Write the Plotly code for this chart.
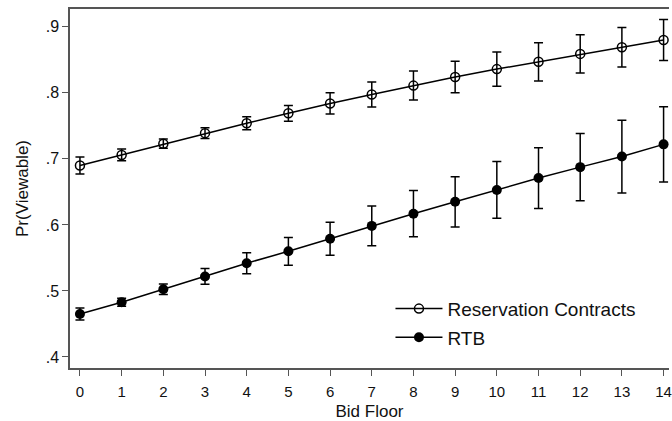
import plotly.graph_objects as go

bid_floor = list(range(15))
x_tick_labels = [str(v) for v in bid_floor]

res_mean = [0.690, 0.706, 0.723, 0.739, 0.754, 0.769, 0.784, 0.7975, 0.811, 0.824,
            0.836, 0.847, 0.859, 0.869, 0.880]
res_err = [0.013, 0.009, 0.007, 0.008, 0.010, 0.012, 0.016, 0.019, 0.022, 0.024,
           0.026, 0.029, 0.029, 0.030, 0.031]

rtb_mean = [0.465, 0.483, 0.5025, 0.522, 0.542, 0.560, 0.579, 0.5985, 0.617, 0.635,
            0.653, 0.671, 0.6875, 0.7035, 0.722]
rtb_err = [0.009, 0.006, 0.008, 0.012, 0.016, 0.021, 0.025, 0.030, 0.035, 0.038,
           0.043, 0.046, 0.051, 0.055, 0.057]

y_tick_vals = [0.4, 0.5, 0.6, 0.7, 0.8, 0.9]
y_tick_text = [".4", ".5", ".6", ".7", ".8", ".9"]

FONT = "Liberation Sans, Arial, sans-serif"

fig = go.Figure()
fig.add_trace(go.Scatter(
    x=bid_floor, y=res_mean, mode="lines+markers", name="Reservation Contracts",
    line=dict(color="black", width=1.5),
    marker=dict(symbol="circle-open", size=9, color="black", line=dict(width=1.5)),
    error_y=dict(type="data", array=res_err, color="black", thickness=1.5, width=4.5),
    legend="legend",
))
fig.add_trace(go.Scatter(
    x=bid_floor, y=rtb_mean, mode="lines+markers", name="RTB",
    line=dict(color="black", width=1.5),
    marker=dict(symbol="circle", size=10, color="black"),
    error_y=dict(type="data", array=rtb_err, color="black", thickness=1.5, width=4.5),
    legend="legend2",
))

legend_common = dict(font=dict(family=FONT, size=19, color="#111"),
                     bgcolor="rgba(0,0,0,0)", xanchor="left", yanchor="middle",
                     itemsizing="trace", itemwidth=47)

fig.update_layout(
    width=672, height=421,
    margin=dict(l=70, r=0, t=9, b=53),
    paper_bgcolor="white", plot_bgcolor="white",
    font=dict(family=FONT, size=15, color="#111"),
    xaxis=dict(
        range=[-0.2387, 14.13], tickvals=bid_floor, ticktext=x_tick_labels,
        showgrid=False, zeroline=False, showline=True, linecolor="#555", linewidth=1.5,
        mirror=True, ticks="outside", ticklen=6, tickcolor="#555", tickwidth=1,
        ticklabeloverflow="allow", ticklabelstandoff=3,
        tickfont=dict(size=15), title=dict(text="Bid Floor", font=dict(size=17), standoff=7),
    ),
    yaxis=dict(
        range=[0.3833, 0.927], tickvals=y_tick_vals, ticktext=y_tick_text,
        showgrid=False, zeroline=False, showline=True, linecolor="#555", linewidth=1.5,
        ticks="outside", ticklen=6, tickcolor="#555", tickwidth=1,
        tickfont=dict(size=16), title=dict(text="Pr(Viewable)", font=dict(size=17), standoff=13),
    ),
    legend=dict(x=0.535, y=0.165, **legend_common),
    legend2=dict(x=0.535, y=0.085, **legend_common),
    showlegend=True,
)

fig.write_html("out.html", config={"displayModeBar": False},
               post_script="document.body.style.margin='0px';")
